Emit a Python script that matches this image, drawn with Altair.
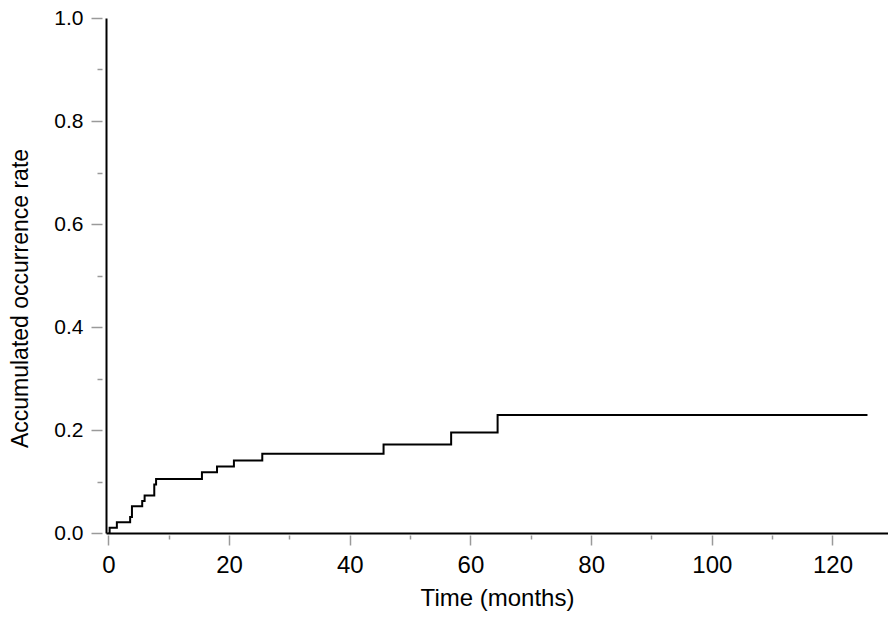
import altair as alt
import pandas as pd

# Step curve (time in months, accumulated occurrence rate)
time_months = [0, 0.2, 1.4, 3.6, 3.9, 5.6, 6.0, 7.6, 7.9, 15.5, 18.0, 20.8, 25.5, 45.6, 56.8, 64.5, 125.8]
rate = [0.0, 0.010, 0.021, 0.031, 0.052, 0.062, 0.073, 0.094, 0.105, 0.118, 0.129, 0.141, 0.154, 0.172, 0.195, 0.229, 0.229]

x_major = [0, 20, 40, 60, 80, 100, 120]
x_minor = [10, 30, 50, 70, 90, 110]
y_major = [0.0, 0.2, 0.4, 0.6, 0.8, 1.0]
y_minor = [0.1, 0.3, 0.5, 0.7, 0.9]

df = pd.DataFrame({"t": time_months, "r": rate})

FONT = "Liberation Sans"
TICK = "#9a9a9a"
xs = alt.Scale(domain=[-0.4, 129.2], nice=False, zero=False)
ys = alt.Scale(domain=[0, 1], nice=False)

base = alt.Chart(df)

main = base.mark_line(interpolate="step-after", color="black", strokeWidth=2).encode(
    x=alt.X("t:Q", scale=xs, axis=alt.Axis(
        orient="bottom", values=x_major, format="d", domain=False, grid=False,
        tickSize=10, tickWidth=1.5, tickColor=TICK, offset=2,
        labelFont=FONT, labelFontSize=24, labelColor="black", labelPadding=8,
        title="Time (months)", titleFont=FONT, titleFontSize=24, titleFontWeight="normal",
        titleColor="black", titlePadding=9)),
    y=alt.Y("r:Q", scale=ys, axis=alt.Axis(
        orient="left", values=y_major, format=".1f", domain=False, grid=False,
        tickSize=11, tickWidth=1.5, tickColor=TICK, offset=4,
        labelFont=FONT, labelFontSize=21, labelColor="black", labelPadding=8,
        title="Accumulated occurrence rate", titleFont=FONT, titleFontSize=23,
        titleFontWeight="normal", titleColor="black", titlePadding=21, titleY=280)),
)

minor = base.mark_line(strokeOpacity=0).encode(
    x=alt.X("t:Q", scale=xs, axis=alt.Axis(
        orient="bottom", values=x_minor, labels=False, domain=False, grid=False,
        tickSize=4, tickWidth=1.5, tickColor=TICK, offset=2, title="")),
    y=alt.Y("r:Q", scale=ys, axis=alt.Axis(
        orient="left", values=y_minor, labels=False, domain=False, grid=False,
        tickSize=5, tickWidth=1.5, tickColor=TICK, offset=4, title="")),
)

domain = base.mark_line(strokeOpacity=0).encode(
    x=alt.X("t:Q", scale=xs, axis=alt.Axis(
        orient="bottom", labels=False, ticks=False, grid=False, domain=True,
        domainColor="black", domainWidth=2, title="")),
    y=alt.Y("r:Q", scale=ys, axis=alt.Axis(
        orient="left", labels=False, ticks=False, grid=False, domain=True,
        domainColor="black", domainWidth=2, title="")),
)

chart = alt.layer(main, minor, domain).resolve_axis(
    x="independent", y="independent"
).properties(
    width=782, height=515,
    autosize=alt.AutoSizeParams(type="none"),
    padding={"left": 98, "top": 10, "right": 0, "bottom": 85},
).configure(background="white").configure_view(
    stroke="transparent", strokeWidth=0
).configure_axis(grid=False)

chart.save("out.html", embed_options={"renderer": "svg", "actions": False})
